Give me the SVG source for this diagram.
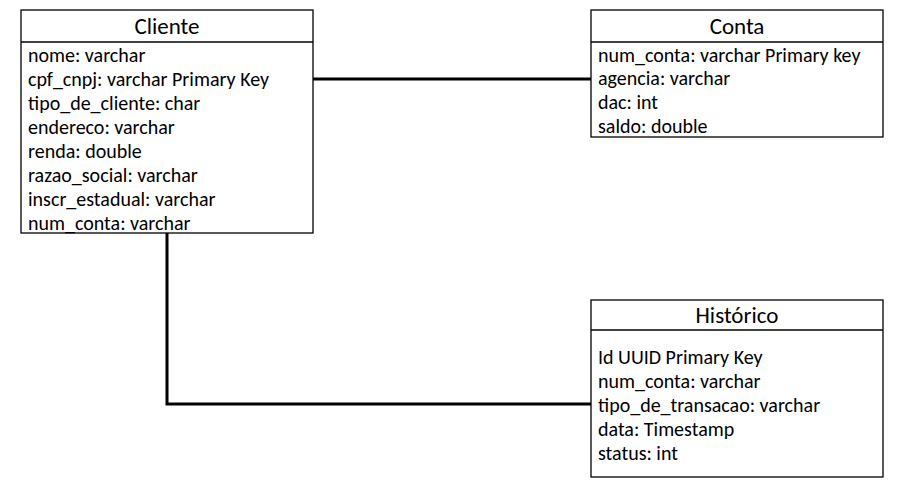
<svg xmlns="http://www.w3.org/2000/svg" width="916" height="502" viewBox="0 0 916 502">
<style>
.box{fill:#fff;stroke:#000;stroke-width:1.3}
.div{stroke:#000;stroke-width:1.3}
.t{font-family:Carlito,Calibri,"Liberation Sans",sans-serif;font-size:20px;fill:#000}
.h{font-family:Carlito,Calibri,"Liberation Sans",sans-serif;font-size:23px;fill:#000;text-anchor:middle}
.c{stroke:#000;stroke-width:3;fill:none}
</style>
<rect width="916" height="502" fill="#fff"/>
<g id="connectors">
<line class="c" x1="313" y1="79" x2="591" y2="79"/>
<polyline class="c" points="167,233 167,404 591,404"/>
</g>
<g id="cliente">
<rect class="box" x="21" y="10" width="292" height="223"/>
<line class="div" x1="21" y1="42" x2="313" y2="42"/>
<text class="h" x="167" y="34">Cliente</text>
<text class="t" x="28" y="62">nome: varchar</text>
<text class="t" x="28" y="86">cpf_cnpj: varchar Primary Key</text>
<text class="t" x="28" y="110">tipo_de_cliente: char</text>
<text class="t" x="28" y="134">endereco: varchar</text>
<text class="t" x="28" y="158">renda: double</text>
<text class="t" x="28" y="182">razao_social: varchar</text>
<text class="t" x="28" y="206">inscr_estadual: varchar</text>
<text class="t" x="28" y="230">num_conta: varchar</text>
</g>
<g id="conta">
<rect class="box" x="591" y="10" width="292" height="127"/>
<line class="div" x1="591" y1="42" x2="883" y2="42"/>
<text class="h" x="737" y="34">Conta</text>
<text class="t" x="598" y="62">num_conta: varchar Primary key</text>
<text class="t" x="598" y="85">agencia: varchar</text>
<text class="t" x="598" y="109">dac: int</text>
<text class="t" x="598" y="133">saldo: double</text>
</g>
<g id="historico">
<rect class="box" x="591" y="300" width="292" height="177"/>
<line class="div" x1="591" y1="330" x2="883" y2="330"/>
<text class="h" x="737" y="323">Histórico</text>
<text class="t" x="598" y="364">Id UUID Primary Key</text>
<text class="t" x="598" y="388">num_conta: varchar</text>
<text class="t" x="598" y="412">tipo_de_transacao: varchar</text>
<text class="t" x="598" y="436">data: Timestamp</text>
<text class="t" x="598" y="460">status: int</text>
</g>
</svg>
